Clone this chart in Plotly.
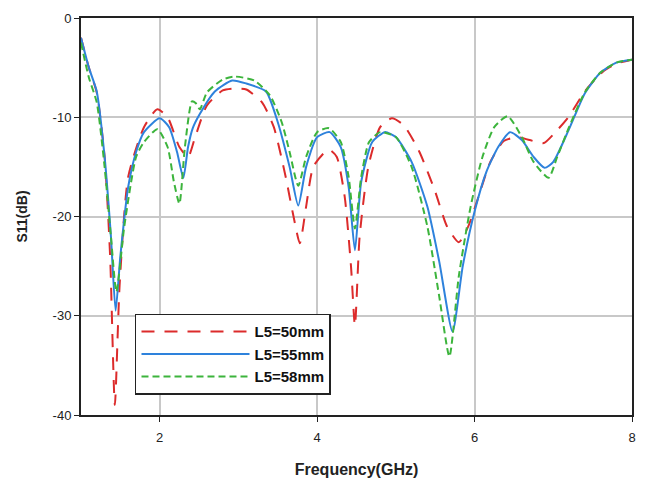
import plotly.graph_objects as go

# L5=50mm (red, long dash)
x50 = [1.0, 1.1, 1.2, 1.3, 1.37, 1.43, 1.49, 1.6, 1.8, 1.97, 2.1, 2.25, 2.36, 2.45, 2.6, 2.8, 2.95, 3.1, 3.3, 3.45, 3.6, 3.7, 3.78, 3.86, 3.95, 4.1, 4.16, 4.25, 4.35, 4.43, 4.48, 4.54, 4.65, 4.8, 4.95, 5.1, 5.3, 5.5, 5.65, 5.8, 5.92, 6.05, 6.2, 6.37, 6.54, 6.7, 6.88, 7.05, 7.2, 7.4, 7.63, 7.8, 8.0]
y50 = [-2.0, -5.0, -7.5, -14.0, -24.0, -39.0, -27.0, -16.0, -11.0, -9.2, -10.0, -13.0, -14.0, -12.0, -8.8, -7.3, -7.1, -7.2, -8.5, -11.0, -16.0, -20.0, -22.7, -19.0, -15.0, -13.5, -13.3, -14.0, -18.0, -25.0, -31.0, -22.0, -15.0, -11.0, -10.1, -10.8, -13.5, -17.5, -21.0, -22.6, -21.0, -18.0, -14.5, -12.4, -12.0, -12.3, -12.6, -11.3, -9.9, -7.4, -5.4, -4.6, -4.2]

# L5=55mm (blue, solid)
x55 = [1.0, 1.1, 1.2, 1.3, 1.38, 1.44, 1.5, 1.6, 1.7, 1.8, 2.0, 2.12, 2.22, 2.3, 2.36, 2.42, 2.5, 2.7, 2.92, 3.1, 3.35, 3.5, 3.65, 3.76, 3.86, 4.0, 4.16, 4.3, 4.4, 4.48, 4.56, 4.7, 4.86, 5.0, 5.2, 5.4, 5.55, 5.72, 5.85, 6.0, 6.15, 6.3, 6.45, 6.6, 6.75, 6.89, 7.0, 7.2, 7.4, 7.6, 7.8, 8.0]
y55 = [-2.0, -5.0, -7.4, -14.0, -22.0, -29.5, -24.0, -17.0, -13.5, -11.5, -10.1, -11.0, -13.5, -16.1, -13.0, -11.1, -9.8, -7.4, -6.3, -6.6, -7.4, -10.5, -15.0, -18.9, -15.0, -12.0, -11.5, -13.0, -17.0, -23.4, -16.5, -12.5, -11.5, -12.0, -14.5, -19.0, -24.5, -31.6, -25.0, -19.5, -15.5, -13.0, -11.5, -12.3, -14.0, -15.1, -14.5, -11.2, -7.6, -5.5, -4.5, -4.2]

# L5=58mm (green, short dash)
x58 = [1.0, 1.1, 1.2, 1.3, 1.38, 1.45, 1.55, 1.7, 1.8, 1.97, 2.1, 2.18, 2.25, 2.32, 2.41, 2.46, 2.51, 2.6, 2.8, 2.95, 3.2, 3.4, 3.55, 3.65, 3.76, 3.86, 4.0, 4.15, 4.3, 4.4, 4.48, 4.56, 4.66, 4.8, 5.0, 5.2, 5.4, 5.55, 5.68, 5.8, 5.95, 6.1, 6.25, 6.42, 6.6, 6.75, 6.94, 7.05, 7.2, 7.4, 7.6, 7.8, 8.0]
y58 = [-2.5, -6.0, -8.5, -15.0, -22.0, -27.6, -21.0, -14.0, -12.5, -11.2, -13.0, -16.5, -18.7, -13.0, -8.4, -8.6, -9.2, -7.5, -6.2, -5.9, -6.3, -7.8, -10.5, -13.5, -16.9, -14.0, -11.5, -11.1, -12.5, -16.0, -21.2, -16.0, -12.5, -11.5, -12.0, -15.0, -21.0, -28.0, -34.1, -26.0, -19.0, -14.0, -11.0, -9.9, -12.0, -14.5, -16.1, -14.0, -11.0, -7.5, -5.5, -4.5, -4.2]

labels = ["L5=50mm", "L5=55mm", "L5=58mm"]
x_ticks = [2, 4, 6, 8]
y_ticks = [0, -10, -20, -30, -40]

fig = go.Figure()
fig.add_trace(go.Scatter(x=x50, y=y50, mode="lines", name=labels[0],
                         line=dict(color="#dc2b2b", width=2, dash="13px,10px", shape="spline", smoothing=0.6)))
fig.add_trace(go.Scatter(x=x55, y=y55, mode="lines", name=labels[1],
                         line=dict(color="#2e82dc", width=2, shape="spline", smoothing=0.6)))
fig.add_trace(go.Scatter(x=x58, y=y58, mode="lines", name=labels[2],
                         line=dict(color="#3cb43c", width=2, dash="7px,4px", shape="spline", smoothing=0.6)))

fig.update_layout(
    width=647, height=487,
    margin=dict(l=81, r=11, t=16, b=72),
    paper_bgcolor="white", plot_bgcolor="white",
    font=dict(family="Liberation Sans, Arial, sans-serif", color="#222", size=13),
    showlegend=True,
    legend=dict(x=0.098, y=0.255, xanchor="left", yanchor="top",
                bordercolor="#222", borderwidth=1.5, bgcolor="white",
                itemwidth=108, tracegroupgap=0,
                font=dict(size=15, family="Liberation Sans, Arial, sans-serif", color="#111", weight="bold")),
    xaxis=dict(range=[1, 8], tickvals=x_ticks, ticktext=[str(v) for v in x_ticks],
               showgrid=True, gridcolor="#c8c8c8", gridwidth=1.5,
               showline=True, linecolor="#222", linewidth=2, mirror=True,
               ticks="outside", ticklen=5, tickcolor="#222", zeroline=False,
               ticklabelstandoff=4,
               title=dict(text="<b>Frequency(GHz)</b>", font=dict(size=16), standoff=20)),
    yaxis=dict(range=[-40, 0], tickvals=y_ticks, ticktext=[str(v) for v in y_ticks],
               showgrid=True, gridcolor="#c8c8c8", gridwidth=1.5,
               showline=True, linecolor="#222", linewidth=2, mirror=True,
               ticks="outside", ticklen=5, tickcolor="#222", zeroline=False,
               title=dict(text="<b>S11(dB)</b>", font=dict(size=14), standoff=22)),
)

fig.write_html("out.html")
